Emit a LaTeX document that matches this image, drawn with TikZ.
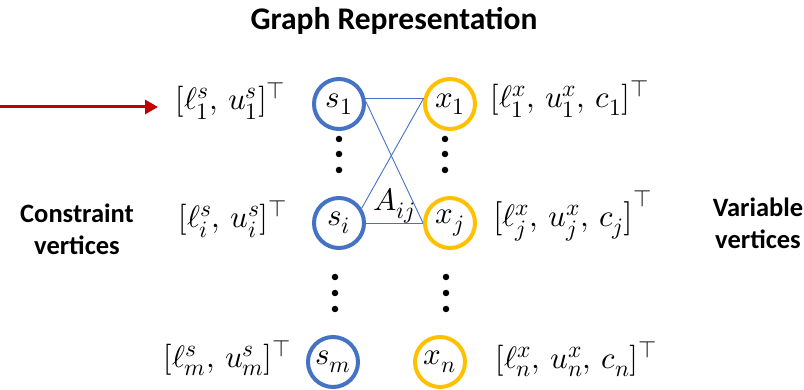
\documentclass[tikz,border=0pt]{standalone}
\usepackage{fontspec}
\usepackage{unicode-math}
\setmathfont{Latin Modern Math}
\newfontfamily\calibri{Carlito}
\usetikzlibrary{arrows.meta}
\DeclareMathSizes{31}{31}{23.5}{18}

\definecolor{cblue}{RGB}{68,114,196}
\definecolor{cgold}{RGB}{255,192,0}
\definecolor{cred}{RGB}{192,0,0}

\tikzset{
  svert/.style={circle, draw=cblue, line width=4pt, minimum size=50pt, inner sep=0pt},
  xvert/.style={circle, draw=cgold, line width=4pt, minimum size=50pt, inner sep=0pt},
  lab/.style={inner sep=0pt, font=\fontsize{31}{36}\selectfont},
  side/.style={align=center, font=\calibri\bfseries\fontsize{26.5}{32}\selectfont},
  edge/.style={cblue, line width=0.9pt},
  vdot/.style={circle, fill=black, inner sep=0pt, minimum size=6.5pt}
}

\begin{document}
\begin{tikzpicture}[x=1pt, y=-1pt]

\useasboundingbox (0,0) rectangle (804,390);

\def\sx{339}
\def\xx{450}

\node[font=\calibri\bfseries\fontsize{31.5}{36}\selectfont] (title) at (394,21) {Graph Representation};

% constraint vertices
\node[svert, lab] (s1) at (\sx,104) {$s_1$};
\node[svert, lab] (si) at (\sx,223) {$s_i$};
\node[svert, lab] (sm) at (333,362) {$s_m$};

% variable vertices
\node[xvert, lab] (x1) at (\xx,104) {$x_1$};
\node[xvert, lab] (xj) at (\xx,223) {$x_j$};
\node[xvert, lab] (xn) at (440,362) {$x_n$};

% dots
\foreach \y in {139,154,170} {
  \node[vdot] at (\sx,\y) {};
  \node[vdot] at (445,\y) {};
}
\foreach \y in {277,293,309} {
  \node[vdot] at (335,\y) {};
  \node[vdot] at (446,\y) {};
}

% edges
\draw[edge] (s1.12) -- (x1.168);
\draw[edge] (s1.5) -- (xj.180);
\draw[edge] (si.33) -- (x1.168);
\draw[edge] (si.0) -- (xj.180);
\node[lab] (aij) at (394,206) {$A_{ij}$};

% features
\node[lab, anchor=west] (ls1) at (175,101) {$[\ell^s_1,\,u^s_1]^\top$};
\node[lab, anchor=west] (lsi) at (178,219) {$[\ell^s_i,\,u^s_i]^\top$};
\node[lab, anchor=west] (lsm) at (163,358) {$[\ell^s_m,\,u^s_m]^\top$};
\node[lab, anchor=west] (lx1) at (490,99) {$[\ell^x_1,\,u^x_1,\,c_1]^\top$};
\node[lab, anchor=west] (lxj) at (492,216) {$\big[\ell^x_j,\,u^x_j,\,c_j\big]^\top$};
\node[lab, anchor=west] (lxn) at (495,359) {$[\ell^x_n,\,u^x_n,\,c_n]^\top$};

\node[side] (cons) at (77,229) {Constraint\\vertices};
\node[side] (vars) at (758,223) {Variable\\vertices};

% input arrow
\coordinate (in) at (0,107);
\draw[cred, line width=3pt, -{Triangle[length=13pt,width=14pt]}, shorten >=17pt] (in) -- (in -| ls1.west);

\end{tikzpicture}
\end{document}
